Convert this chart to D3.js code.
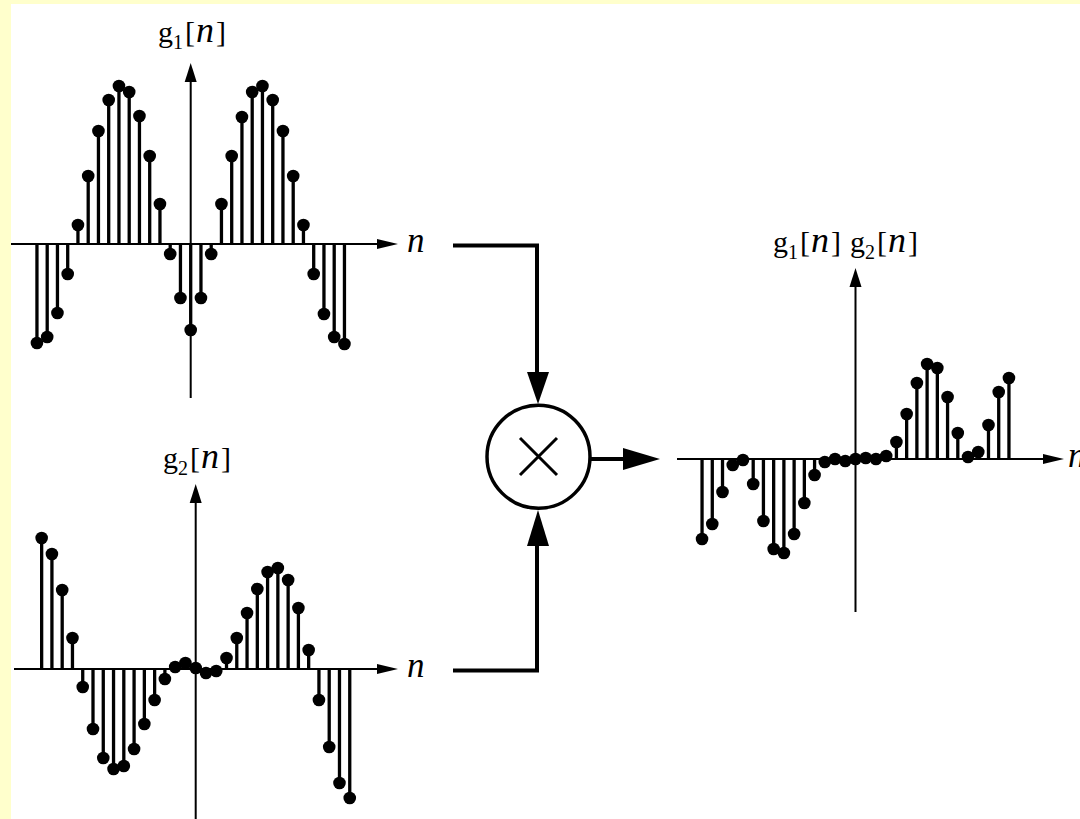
<!DOCTYPE html>
<html>
<head>
<meta charset="utf-8">
<script src="https://cdn.jsdelivr.net/npm/d3@7"></script>
<style>
  html, body { margin: 0; padding: 0; background: #ffffcc; }
  svg { display: block; }
  .lbl { font-family: "Liberation Serif", "DejaVu Serif", serif; fill: #000; }
</style>
</head>
<body>
<svg id="fig" width="1080" height="819"></svg>
<script>
// Sample indices shared by the three sequences
const nIdx = [-15,-14,-13,-12,-11,-10,-9,-8,-7,-6,-5,-4,-3,-2,-1,0,1,2,3,4,5,6,7,8,9,10,11,12,13,14,15];

// g1[n]
const g1 = [-0.99,-0.93,-0.69,-0.30,0.19,0.68,1.13,1.44,1.58,1.52,1.28,0.88,0.40,-0.10,-0.54,
            -0.86,
            -0.54,-0.10,0.40,0.88,1.27,1.52,1.58,1.44,1.13,0.68,0.19,-0.30,-0.70,-0.93,-1.00];

// g2[n]
const g2 = [1.31,1.15,0.79,0.31,-0.18,-0.60,-0.89,-1.00,-0.97,-0.80,-0.55,-0.31,-0.10,0.02,0.06,
            0.01,
            -0.04,-0.02,0.11,0.31,0.56,0.80,0.97,1.01,0.89,0.61,0.19,-0.31,-0.78,-1.14,-1.29];

// g1[n] g2[n]
const prod = [-0.80,-0.65,-0.33,-0.06,-0.01,-0.25,-0.62,-0.90,-0.94,-0.75,-0.44,-0.16,-0.03,0.00,-0.02,
              0.00,
              0.01,0.00,0.03,0.17,0.45,0.76,0.95,0.91,0.62,0.26,0.02,0.07,0.34,0.67,0.81];

const svg = d3.select("#fig");
svg.append("rect").attr("x", 11).attr("y", 4).attr("width", 1069).attr("height", 815).attr("fill", "#fff");

// One stem plot panel: axes with arrowheads plus stems and dots
function stemPanel(cfg) {
  const x = d3.scaleLinear().domain([-15, 15]).range([cfg.cx - 15 * cfg.step, cfg.cx + 15 * cfg.step]);
  const y = d3.scaleLinear().domain([-1, 1]).range([cfg.base + 100, cfg.base - 100]);
  const g = svg.append("g");

  // horizontal axis
  g.append("line").attr("x1", cfg.hx0).attr("x2", cfg.hx1 - 14)
    .attr("y1", y(0)).attr("y2", y(0)).attr("stroke", "#000").attr("stroke-width", 2);
  g.append("path").attr("d", `M${cfg.hx1},${y(0)} L${cfg.hx1 - 21},${y(0) - 5} L${cfg.hx1 - 21},${y(0) + 5} Z`).attr("fill", "#000");
  // vertical axis
  g.append("line").attr("x1", x(0)).attr("x2", x(0))
    .attr("y1", cfg.vy0 + 14).attr("y2", cfg.vy1).attr("stroke", "#000").attr("stroke-width", 2);
  g.append("path").attr("d", `M${x(0)},${cfg.vy0} L${x(0) - 6},${cfg.vy0 + 19} L${x(0) + 6},${cfg.vy0 + 19} Z`).attr("fill", "#000");

  const pts = nIdx.map((k, i) => ({ n: k, v: cfg.values[i] }));
  g.selectAll("line.stem").data(pts).join("line").attr("class", "stem")
    .attr("x1", d => x(d.n)).attr("x2", d => x(d.n))
    .attr("y1", y(0)).attr("y2", d => y(d.v))
    .attr("stroke", "#000").attr("stroke-width", 3.3);
  g.selectAll("circle.dot").data(pts).join("circle").attr("class", "dot")
    .attr("cx", d => x(d.n)).attr("cy", d => y(d.v)).attr("r", 6.3).attr("fill", "#000");

  // axis variable label
  g.append("text").attr("class", "lbl").attr("x", cfg.hx1 + cfg.nGap).attr("y", y(0) + 8)
    .attr("font-size", 35).attr("font-style", "italic").text("n");
}

// label of the form g_k[n], possibly several in a row
function seqLabel(x0, y0, subs) {
  const t = svg.append("text").attr("class", "lbl").attr("x", x0).attr("y", y0).attr("font-size", 30);
  subs.forEach((s, i) => {
    t.append("tspan").attr("dx", i === 0 ? 0 : 9).text("g");
    t.append("tspan").attr("font-size", 20).attr("dy", 7).text(s);
    t.append("tspan").attr("dy", -7).attr("dx", 2).text("[");
    t.append("tspan").attr("font-style", "italic").attr("font-size", 36).attr("dx", 1).text("n");
    t.append("tspan").attr("dx", 2).text("]");
  });
}

stemPanel({ values: g1, cx: 190.7, step: 10.25, base: 244, hx0: 11, hx1: 398, vy0: 63, vy1: 398, nGap: 9 });
stemPanel({ values: g2, cx: 195.7, step: 10.27, base: 669, hx0: 14, hx1: 398, vy0: 484, vy1: 819, nGap: 9 });
stemPanel({ values: prod, cx: 855.5, step: 10.23, base: 459, hx0: 677, hx1: 1064, vy0: 268, vy1: 612, nGap: 4 });

seqLabel(158, 42, ["1"]);
seqLabel(163, 468, ["2"]);
seqLabel(773, 252, ["1", "2"]);

// multiplier block
const thick = 4;
svg.append("path").attr("d", "M453,245.5 H537 V375").attr("fill", "none").attr("stroke", "#000").attr("stroke-width", thick);
svg.append("path").attr("d", "M538,404 L527,372 L549,372 Z").attr("fill", "#000");
svg.append("path").attr("d", "M453,670.5 H537 V542").attr("fill", "none").attr("stroke", "#000").attr("stroke-width", thick);
svg.append("path").attr("d", "M538,510 L527,546 L549,546 Z").attr("fill", "#000");
svg.append("circle").attr("cx", 538.5).attr("cy", 456.7).attr("r", 51.5)
  .attr("fill", "none").attr("stroke", "#000").attr("stroke-width", 3.5);
svg.append("path").attr("d", "M520,438 L557,475 M557,438 L520,475").attr("stroke", "#000").attr("stroke-width", 3);
svg.append("line").attr("x1", 590).attr("x2", 626).attr("y1", 459).attr("y2", 459).attr("stroke", "#000").attr("stroke-width", thick);
svg.append("path").attr("d", "M660,459 L623,448 L623,470 Z").attr("fill", "#000");
</script>
</body>
</html>
